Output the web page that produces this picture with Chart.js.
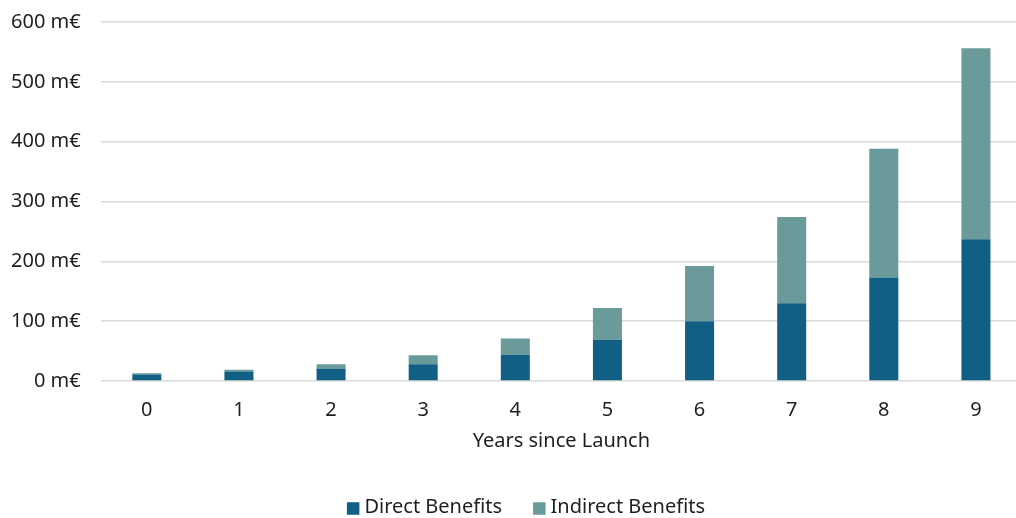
<!DOCTYPE html>
<html>
<head>
<meta charset="utf-8">
<style>
  html, body { margin: 0; padding: 0; background: #ffffff; overflow: hidden; }
  #wrap { position: relative; width: 1024px; height: 518px; overflow: hidden; }
  #chart { display: block; margin-top: -10px; }
</style>
<script src="https://cdn.jsdelivr.net/npm/chart.js@4/dist/chart.umd.min.js"></script>
</head>
<body>
<div id="wrap"><canvas id="chart" width="1024" height="528"></canvas></div>
<script>
// Years since launch
const years = ['0', '1', '2', '3', '4', '5', '6', '7', '8', '9'];
// Benefits in millions of euros
const directBenefits = [11, 16, 20, 28, 44, 69, 100, 130, 173, 237];
const indirectBenefits = [2, 3, 8, 15, 27, 53, 92, 144, 215, 319];
// Value axis
const yTicks = [0, 100, 200, 300, 400, 500, 600];

const FONT = '"Noto Sans", "Open Sans", sans-serif';
const FONT_SIZE = 20;
const TEXT = '#1f1f1f';

// Legend drawn as a single centred row below the axis title
const bottomLegend = {
  id: 'bottomLegend',
  afterDraw(chart) {
    const ctx = chart.ctx;
    const box = 12.5, boxGap = 5, itemGap = 31;
    const centerX = 526, centerY = 517.5;
    ctx.save();
    ctx.font = FONT_SIZE + 'px ' + FONT;
    ctx.textBaseline = 'middle';
    ctx.textAlign = 'left';
    const items = chart.data.datasets.map(ds => ({
      text: ds.label, color: ds.backgroundColor, w: ctx.measureText(ds.label).width
    }));
    const total = items.reduce((s, it) => s + box + boxGap + it.w, 0) + itemGap * (items.length - 1);
    let x = centerX - total / 2;
    items.forEach(it => {
      ctx.fillStyle = it.color;
      ctx.fillRect(x, centerY - box / 2 + 1, box, box);
      x += box + boxGap;
      ctx.fillStyle = TEXT;
      ctx.fillText(it.text, x, centerY);
      x += it.w + itemGap;
    });
    ctx.restore();
  }
};

new Chart(document.getElementById('chart'), {
  type: 'bar',
  data: {
    labels: years,
    datasets: [
      {
        label: 'Direct Benefits',
        data: directBenefits,
        backgroundColor: '#125f86',
        borderWidth: 0,
        barPercentage: 0.315,
        categoryPercentage: 1
      },
      {
        label: 'Indirect Benefits',
        data: indirectBenefits,
        backgroundColor: '#6b9a9a',
        borderWidth: 0,
        barPercentage: 0.315,
        categoryPercentage: 1
      }
    ]
  },
  plugins: [bottomLegend],
  options: {
    responsive: false,
    animation: false,
    layout: { padding: { top: 3, left: 0, right: 2, bottom: 0 } },
    plugins: {
      tooltip: { enabled: false },
      legend: { display: false }
    },
    scales: {
      x: {
        stacked: true,
        afterFit: (scale) => { scale.height = 137; },
        grid: { display: false, drawTicks: false },
        border: { display: false },
        ticks: {
          font: { family: FONT, size: FONT_SIZE },
          color: TEXT,
          padding: 17
        },
        title: {
          display: true,
          text: 'Years since Launch',
          font: { family: FONT, size: FONT_SIZE },
          color: TEXT,
          padding: { top: 7, bottom: 65 }
        }
      },
      y: {
        stacked: true,
        min: 0,
        max: 600,
        afterBuildTicks: (scale) => { scale.ticks = yTicks.map(v => ({ value: v })); },
        afterFit: (scale) => { scale.width = 100.75; },
        grid: { color: '#d9d9d9', lineWidth: 1.5, drawTicks: false },
        border: { display: false },
        ticks: {
          font: { family: FONT, size: FONT_SIZE },
          color: TEXT,
          padding: 20,
          callback: (v) => v + ' m€'
        }
      }
    }
  }
});
</script>
</body>
</html>
